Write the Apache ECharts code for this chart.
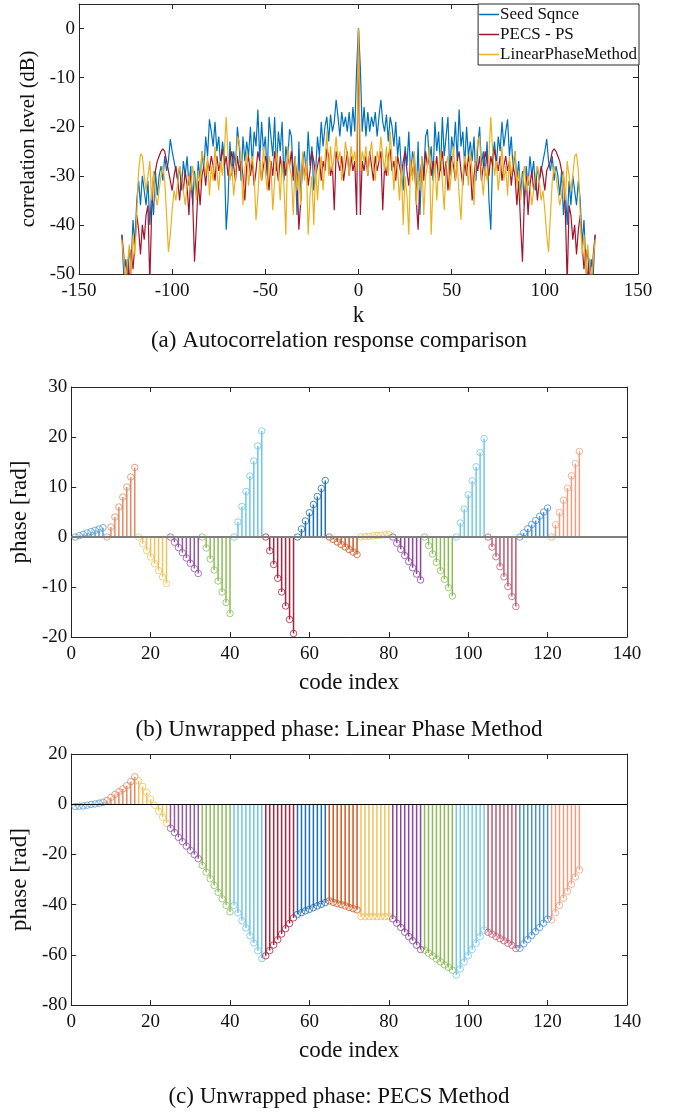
<!DOCTYPE html>
<html>
<head>
<meta charset="utf-8">
<script src="https://cdn.jsdelivr.net/npm/echarts@6/dist/echarts.min.js"></script>
<style>
html, body { margin: 0; padding: 0; background: #fff; }
#container { width: 678px; height: 1113px; }
</style>
</head>
<body>
<div id="container"></div>
<script>
// (a) autocorrelation magnitude in dB for lags k = 1..127 (|R(-k)| = |R(k)|, R(0) = 0 dB)
var seedSqnce = [
  -8, -21, -16, -22, -17, -21, -18, -20, -17, -22,
  -18, -14.5, -19, -21, -17.5, -23, -18, -20, -24, -19,
  -26, -22, -29, -33, -24, -28, -21, -30, -25, -27,
  -35, -23, -38, -26, -30, -22, -20.5, -27, -24, -31,
  -19, -25, -21, -29, -18, -26, -22, -18, -30, -22,
  -25, -19, -27, -16.5, -24, -21, -28, -20, -26, -23,
  -27, -22, -31, -24, -20, -28, -25, -30, -23, -35,
  -41, -26, -23, -28, -22, -25, -19, -24, -21, -18.5,
  -26, -22, -29, -25, -31, -27, -34, -29, -36, -28,
  -32, -26, -30, -27, -33, -28, -31, -29, -27, -25,
  -22.5, -27, -29, -26, -31, -28, -30, -34, -29, -38,
  -33, -40, -31, -36, -30, -30, -36, -31, -35, -44,
  -39, -48, -45, -52, -47, -50, -42
];
var pecsPs = [
  -38, -27, -29, -26, -30, -25, -28, -31, -26, -29,
  -27, -25, -37, -28, -30, -26, -24.5, -29, -27, -31,
  -26, -28, -30, -27, -25, -29, -32, -27, -30, -26,
  -35, -41, -30, -27, -31, -25, -28, -26, -30, -27,
  -29, -26, -31, -28, -25, -30, -27, -33, -29, -26,
  -28, -31, -27, -25, -29, -32, -27, -30, -26, -28,
  -35, -30, -27, -29, -26, -31, -28, -25, -27, -30,
  -26, -28, -24.5, -27, -29, -26, -31, -28, -26, -29,
  -27, -32, -28, -30, -36, -31, -40, -47.5, -35, -30,
  -38, -32, -29, -33, -30, -35, -31, -28, -30, -33,
  -29, -29, -27, -25, -24.5, -25, -26, -27, -29, -30,
  -37, -52, -36, -38, -43, -40, -46, -41, -38, -44,
  -49, -45, -52, -47, -53, -46, -42
];
var linearPhase = [
  -29, -25, -27, -24, -30, -26, -23, -28, -31, -25,
  -27, -22, -26, -29, -24, -30, -21, -27, -33, -26,
  -29, -35, -28, -40, -30, -34, -42, -27, -31, -25,
  -36, -29, -33, -26, -38, -30, -28, -24, -42, -32,
  -27, -35, -29, -25, -31, -37, -28, -26, -33, -29,
  -24, -31, -27, -34, -39, -30, -26, -28, -32, -25,
  -29, -36, -27, -23, -22, -30, -34, -28, -31, -26,
  -18, -25, -30, -27, -33, -29, -24, -31, -28, -34,
  -26, -30, -27, -25, -32, -29, -35, -31, -28, -33,
  -30, -32, -36, -33, -30, -28, -31, -35, -33, -37,
  -42, -45.5, -38, -31, -28, -30, -33, -36, -34, -29,
  -35, -27, -30, -33, -30, -26, -25.5, -29, -38, -46,
  -42, -50, -44, -48, -52, -47, -43
];

// (b) unwrapped phase [rad], linear phase method, code index 1..128
var phaseLinear = [
  0, 0.27, 0.53, 0.8, 1.07, 1.33, 1.6, 1.87,
  0, 2.0, 4.0, 6.0, 8.0, 10.0, 12.0, 13.9,
  0, -1.35, -2.7, -4.0, -5.35, -6.7, -8.0, -9.3,
  0, -1.05, -2.1, -3.15, -4.2, -5.25, -6.3, -7.3,
  0, -2.2, -4.4, -6.6, -8.8, -11.0, -13.1, -15.3,
  0, 3.0, 6.1, 9.1, 12.2, 15.2, 18.2, 21.2,
  0, -2.75, -5.5, -8.25, -11.0, -13.8, -16.5, -19.3,
  0, 1.6, 3.2, 4.85, 6.5, 8.1, 9.7, 11.3,
  0, -0.5, -1.0, -1.5, -2.0, -2.5, -3.0, -3.5,
  0, 0.07, 0.15, 0.22, 0.3, 0.37, 0.45, 0.52,
  0, -1.23, -2.46, -3.7, -4.9, -6.15, -7.4, -8.6,
  0, -1.7, -3.4, -5.05, -6.75, -8.45, -10.1, -11.8,
  0, 2.8, 5.6, 8.45, 11.25, 14.05, 16.9, 19.7,
  0, -2.0, -3.95, -5.95, -7.95, -9.9, -11.9, -13.9,
  0, 0.83, 1.66, 2.5, 3.3, 4.15, 5.0, 5.8,
  0, 2.45, 4.9, 7.35, 9.8, 12.25, 14.7, 17.1
];

// (c) unwrapped phase [rad], PECS method
var phasePecs = [
  -0.9, -0.8, -0.7, -0.4, -0.1, 0.1, 0.4, 0.8,
  1.5, 2.7, 3.9, 5.0, 6.1, 7.4, 9.0, 10.9,
  9.3, 7.1, 4.7, 2.0, -0.4, -2.8, -5.2, -7.6,
  -9.6, -11.3, -13.2, -14.9, -16.7, -18.4, -20.1, -21.7,
  -24.4, -27.1, -29.7, -32.4, -35.1, -37.7, -40.3, -42.9,
  -40.3, -43.3, -46.4, -49.3, -52.4, -55.3, -58.4, -61.5,
  -60.4, -58.3, -56.1, -54.0, -51.7, -49.6, -47.5, -45.3,
  -43.9, -43.2, -42.5, -41.9, -41.2, -40.5, -39.9, -39.2,
  -38.5, -39.1, -39.6, -40.0, -40.5, -41.1, -41.6, -42.1,
  -44.8, -44.8, -44.8, -44.8, -44.8, -44.8, -44.8, -44.8,
  -45.7, -47.4, -49.1, -51.0, -52.7, -54.4, -56.2, -57.9,
  -58.1, -59.3, -60.5, -61.7, -62.8, -64.0, -65.0, -66.1,
  -68.1, -65.6, -62.9, -60.4, -57.9, -55.4, -52.7, -50.2,
  -51.0, -51.8, -52.7, -53.6, -54.4, -55.4, -56.2, -57.5,
  -57.4, -55.6, -53.9, -52.3, -50.7, -49.1, -47.4, -45.8,
  -46.1, -43.2, -40.3, -37.5, -34.7, -31.9, -29.0, -26.2
];

var legendNames = ['Seed Sqnce', 'PECS - PS', 'LinearPhaseMethod'];
var captions = [
  '(a) Autocorrelation response comparison',
  '(b) Unwrapped phase: Linear Phase Method',
  '(c) Unwrapped phase: PECS Method'
];

var FONT = "'Liberation Serif', 'Times New Roman', serif";
var AX = '#262626';
var TXT = '#111';
var lineColors = ['#0072BD', '#A2142F', '#EDB120'];
// one colour per block of 8 stems (matlab colour order, as rendered)
var stemColors = ['#5b9fd6', '#e58a62', '#f0c35c', '#9657a8', '#8dbd58', '#6fc6ec', '#a8243e', '#1a6fb5',
                  '#d2561f', '#f0c25a', '#8e45a0', '#8bbb55', '#74c8ee', '#bf5b70', '#4b91d1', '#eea07e'];

function mirror(oneSided) {
    var pts = [];
    for (var i = oneSided.length - 1; i >= 0; i--) pts.push([-(i + 1), oneSided[i]]);
    pts.push([0, 0]);
    for (var j = 0; j < oneSided.length; j++) pts.push([j + 1, oneSided[j]]);
    return pts;
}

function xAxes(g, min, max, interval, name, nameGap) {
    var main = {
        type: 'value', gridIndex: g, min: min, max: max, interval: interval, position: 'bottom',
        axisLine: { show: true, onZero: false, lineStyle: { color: AX, width: 1 } },
        axisTick: { show: true, inside: true, length: 5, lineStyle: { color: AX } },
        axisLabel: { color: TXT, fontFamily: FONT, fontSize: 19, margin: 8 },
        splitLine: { show: false },
        name: name, nameLocation: 'middle', nameGap: nameGap,
        nameTextStyle: { color: TXT, fontFamily: FONT, fontSize: 23 }
    };
    var top = {
        type: 'value', gridIndex: g, min: min, max: max, interval: interval, position: 'top',
        axisLine: { show: true, onZero: false, lineStyle: { color: AX, width: 1 } },
        axisTick: { show: true, inside: true, length: 5, lineStyle: { color: AX } },
        axisLabel: { show: false }, splitLine: { show: false }
    };
    return [main, top];
}

function yAxes(g, min, max, interval, name, nameGap, nameSize) {
    var main = {
        type: 'value', gridIndex: g, min: min, max: max, interval: interval, position: 'left',
        axisLine: { show: true, onZero: false, lineStyle: { color: AX, width: 1 } },
        axisTick: { show: true, inside: true, length: 5, lineStyle: { color: AX } },
        axisLabel: { color: TXT, fontFamily: FONT, fontSize: 19, margin: 4, showMaxLabel: max % interval === 0 },
        splitLine: { show: false },
        name: name, nameLocation: 'middle', nameGap: nameGap,
        nameTextStyle: { color: TXT, fontFamily: FONT, fontSize: nameSize }
    };
    var right = {
        type: 'value', gridIndex: g, min: min, max: max, interval: interval, position: 'right',
        axisLine: { show: true, onZero: false, lineStyle: { color: AX, width: 1 } },
        axisTick: { show: true, inside: true, length: 5, lineStyle: { color: AX } },
        axisLabel: { show: false }, splitLine: { show: false }
    };
    return [main, right];
}

function stemSeries(values, xIdx, yIdx, baseColor, baseWidth) {
    var bars = [], marks = [];
    for (var i = 0; i < values.length; i++) {
        var c = stemColors[Math.floor(i / 8)];
        bars.push({ value: [i + 1, values[i]], itemStyle: { color: c } });
        marks.push({ value: [i + 1, values[i]], itemStyle: { borderColor: c } });
    }
    return [{
        type: 'bar', xAxisIndex: xIdx, yAxisIndex: yIdx, data: bars, barWidth: 1.5,
        animation: false, silent: true,
        markLine: {
            symbol: 'none', silent: true, label: { show: false },
            lineStyle: { color: baseColor, width: baseWidth, type: 'solid' },
            data: [{ yAxis: 0 }]
        }
    }, {
        type: 'scatter', xAxisIndex: xIdx, yAxisIndex: yIdx, data: marks,
        symbol: 'circle', symbolSize: 6.5, animation: false, silent: true,
        itemStyle: { color: 'rgba(255,255,255,0)', borderWidth: 1 }, z: 3
    }];
}

var xs = [].concat(xAxes(0, -150, 150, 50, 'k', 30), xAxes(1, 0, 140, 20, 'code index', 34), xAxes(2, 0, 140, 20, 'code index', 34));
var ys = [].concat(yAxes(0, -50, 5, 10, 'correlation level (dB)', 32, 20.5), yAxes(1, -20, 30, 10, 'phase [rad]', 33, 23), yAxes(2, -80, 20, 20, 'phase [rad]', 33, 23));

var series = [];
[seedSqnce, pecsPs, linearPhase].forEach(function (arr, i) {
    series.push({
        name: legendNames[i], type: 'line', xAxisIndex: 0, yAxisIndex: 0,
        data: mirror(arr), symbol: 'none', animation: false,
        lineStyle: { width: 1.2, color: lineColors[i] }, itemStyle: { color: lineColors[i] }
    });
});
series = series.concat(stemSeries(phaseLinear, 2, 2, '#7f7f7f', 2));
series = series.concat(stemSeries(phasePecs, 4, 4, '#000', 1));

var capStyle = { color: TXT, fontFamily: FONT, fontSize: 23, fontWeight: 'normal' };

var option = {
    backgroundColor: '#fff',
    animation: false,
    grid: [
        { left: 79, top: 4, width: 559, height: 270 },
        { left: 67, top: 387, width: 560, height: 250 },
        { left: 67, top: 754, width: 560, height: 251 }
    ],
    xAxis: xs,
    yAxis: ys,
    legend: {
        data: legendNames, orient: 'vertical', right: 39, top: 4,
        icon: 'rect', itemWidth: 20, itemHeight: 1.5, itemGap: 3,
        backgroundColor: '#fff', borderColor: AX, borderWidth: 1,
        padding: [2, 2, 2, 1],
        textStyle: { color: TXT, fontFamily: FONT, fontSize: 17, padding: [0, 0, 0, -4] }
    },
    title: [
        { text: captions[0], left: 'center', top: 329, padding: 0, textStyle: capStyle },
        { text: captions[1], left: 'center', top: 718, padding: 0, textStyle: capStyle },
        { text: captions[2], left: 'center', top: 1085, padding: 0, textStyle: capStyle }
    ],
    series: series
};

var myChart = echarts.init(document.getElementById('container'));
myChart.setOption(option);
</script>
</body>
</html>
